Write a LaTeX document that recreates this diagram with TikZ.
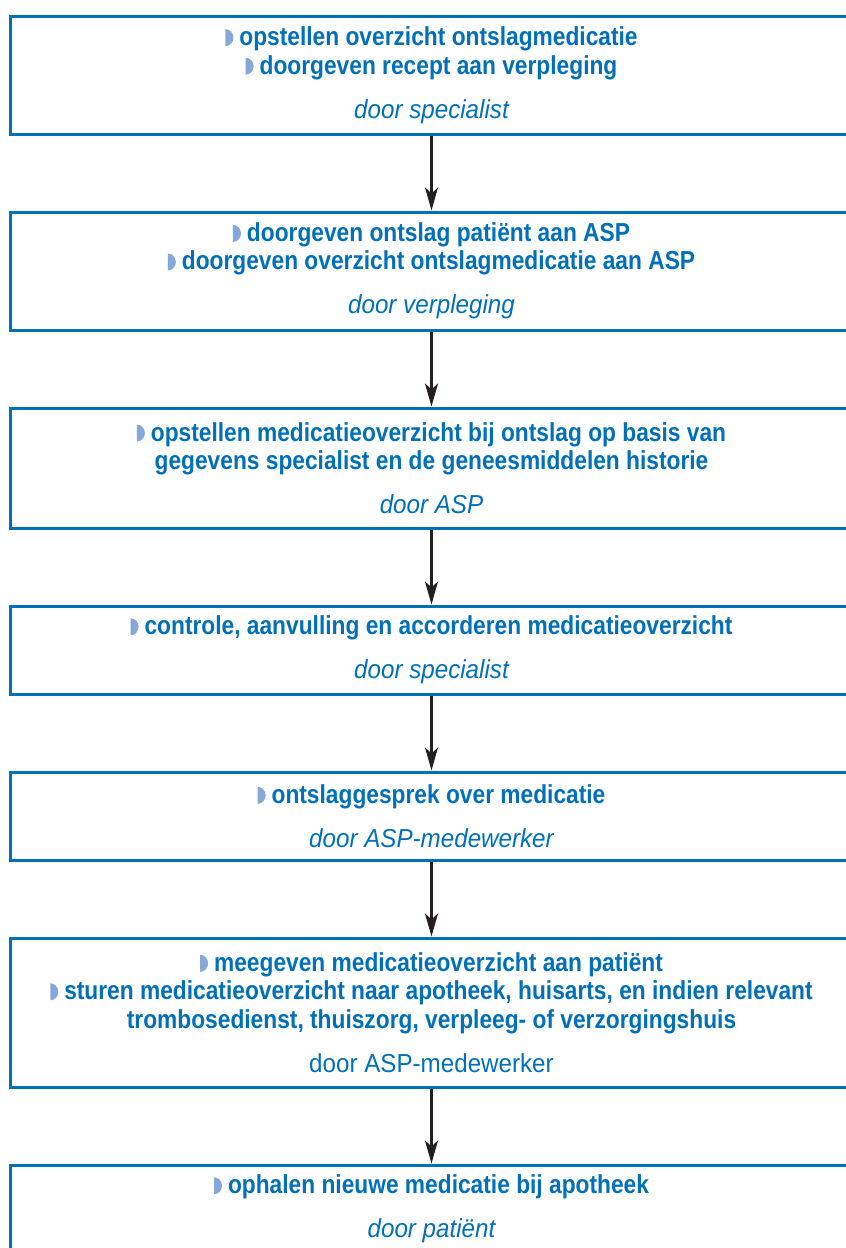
\documentclass[tikz,border=0pt]{standalone}
\usepackage{fontspec}
\setmainfont{Liberation Sans}
\newfontfamily\bcond{Liberation Sans}[FakeStretch=0.875]
\newfontfamily\dcond{Liberation Sans}[FakeStretch=0.93]
\usetikzlibrary{arrows.meta}
\definecolor{nblue}{RGB}{0,112,186}
\definecolor{bulc}{RGB}{134,168,216}
\definecolor{arrc}{RGB}{35,31,32}
\newcommand\bul{\tikz[baseline=0pt]{\fill[bulc] (0pt,-0.5pt) -- (0pt,16.5pt) arc[start angle=90,end angle=-90,x radius=8pt,y radius=8.5pt] -- cycle;}\hspace{6pt}}
\newcommand\doorit[1]{{\dcond\fontsize{26}{28.5}\selectfont\mdseries\itshape #1}}
\newcommand\doorup[1]{{\dcond\fontsize{26}{28.5}\selectfont\mdseries\upshape #1}}
\begin{document}
\begin{tikzpicture}[x=1pt,y=-1pt,
  box/.style={draw=nblue, line width=3pt, rectangle, minimum width=843pt, inner sep=0pt,
    align=center, text=nblue, font=\bcond\bfseries\fontsize{26}{28.5}\selectfont},
  arr/.style={draw=arrc, line width=2.6pt, -{Stealth[length=23pt,width=13pt,inset=6pt]}}]
\fill[white] (0,0) rectangle (846,1248);
\useasboundingbox (0,0) rectangle (846,1248);
\clip (0,0) rectangle (846,1248);
\node[box, minimum height=118.3pt] (b1) at (431.5,75.2)
  {\bul opstellen overzicht ontslagmedicatie\\ \bul doorgeven recept aan verpleging\\[15.5pt] \doorit{door specialist}};
\node[box, minimum height=118pt] (b2) at (431.5,271)
  {\bul doorgeven ontslag patiënt aan ASP\\ \bul doorgeven overzicht ontslagmedicatie aan ASP\\[15.5pt] \doorit{door verpleging}};
\node[box, minimum height=120pt] (b3) at (431.5,468)
  {\bul opstellen medicatieoverzicht bij ontslag op basis van\\ gegevens specialist en de geneesmiddelen historie\\[15.5pt] \doorit{door ASP}};
\node[box, minimum height=88pt] (b4) at (431.5,650)
  {\bul controle, aanvulling en accorderen medicatieoverzicht\\[15.5pt] \doorit{door specialist}};
\node[box, minimum height=88pt] (b5) at (431.5,816)
  {\bul ontslaggesprek over medicatie\\[15.5pt] \doorit{door ASP-medewerker}};
\node[box, minimum height=149pt] (b6) at (431.5,1012.5)
  {\bul meegeven medicatieoverzicht aan patiënt\\ \bul sturen medicatieoverzicht naar apotheek, huisarts, en indien relevant\\ trombosedienst, thuiszorg, verpleeg- of verzorgingshuis\\[15.5pt] \doorup{door ASP-medewerker}};
\node[box, minimum height=88pt] (b7) at (431.5,1209)
  {\bul ophalen nieuwe medicatie bij apotheek\\[15.5pt] \doorit{door patiënt}};
\draw[arr] (b1.south) -- (b2.north);
\draw[arr] (b2.south) -- (b3.north);
\draw[arr] (b3.south) -- (b4.north);
\draw[arr] (b4.south) -- (b5.north);
\draw[arr] (b5.south) -- (b6.north);
\draw[arr] (b6.south) -- (b7.north);
\end{tikzpicture}
\end{document}
